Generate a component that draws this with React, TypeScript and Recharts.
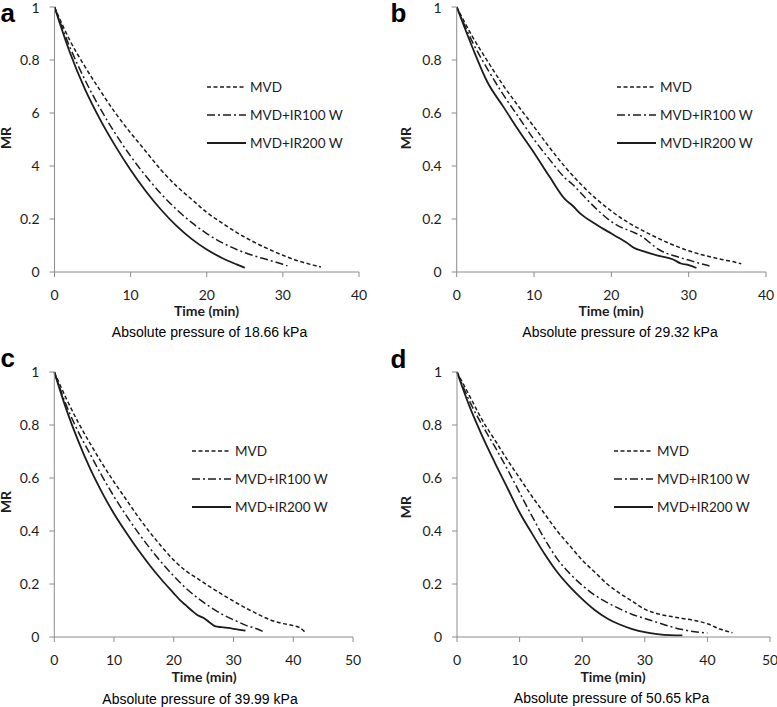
import { LineChart, Line, XAxis, YAxis, Legend } from "recharts";

// MR vs drying time (min)
const aMVD = [[0, 1], [2, 0.875], [4, 0.775], [6, 0.685], [8, 0.6], [10, 0.525], [12, 0.455], [14, 0.385], [16, 0.325], [18, 0.275], [20, 0.225], [22, 0.185], [24, 0.148], [26, 0.116], [28, 0.088], [30, 0.063], [32, 0.042], [34, 0.026], [35, 0.019]];
const aIR100 = [[0, 1], [2, 0.85], [4, 0.725], [6, 0.617], [8, 0.522], [10, 0.437], [12, 0.362], [14, 0.295], [16, 0.237], [18, 0.187], [20, 0.145], [22, 0.111], [24, 0.084], [26, 0.063], [28, 0.046], [30, 0.029], [30.6, 0.023]];
const aIR200 = [[0, 1], [2, 0.83], [4, 0.69], [6, 0.575], [8, 0.475], [10, 0.385], [12, 0.305], [14, 0.235], [16, 0.175], [18, 0.125], [20, 0.085], [22, 0.053], [24, 0.028], [25, 0.016]];

const bMVD = [[0, 1], [2, 0.89], [4, 0.795], [6, 0.705], [8, 0.625], [10, 0.548], [12, 0.47], [14, 0.397], [16, 0.333], [18, 0.277], [20, 0.23], [22, 0.19], [24, 0.157], [26, 0.128], [28, 0.102], [30, 0.08], [32, 0.063], [34, 0.049], [36, 0.037], [36.8, 0.031]];
const bIR100 = [[0, 1], [2, 0.87], [4, 0.765], [6, 0.67], [8, 0.585], [10, 0.5], [12, 0.425], [14, 0.355], [15, 0.33], [16, 0.3], [18, 0.24], [20, 0.19], [21, 0.172], [22, 0.16], [23, 0.148], [24, 0.133], [25, 0.11], [26, 0.087], [27, 0.072], [28, 0.062], [30, 0.045], [32, 0.028], [32.7, 0.023]];
const bIR200 = [[0, 1], [2, 0.85], [4, 0.715], [6, 0.625], [8, 0.535], [10, 0.45], [12, 0.36], [14, 0.275], [15, 0.25], [16, 0.22], [18, 0.18], [20, 0.145], [21, 0.128], [22, 0.11], [23, 0.09], [24, 0.08], [26, 0.062], [28, 0.047], [29, 0.032], [30, 0.026], [31, 0.015]];

const cMVD = [[0, 1], [2, 0.9], [4, 0.81], [6, 0.73], [8, 0.655], [10, 0.585], [12, 0.52], [14, 0.455], [16, 0.395], [18, 0.34], [20, 0.29], [22, 0.25], [24, 0.22], [26, 0.19], [28, 0.162], [30, 0.135], [32, 0.11], [34, 0.087], [36, 0.066], [38, 0.052], [40, 0.043], [41, 0.036], [42, 0.018]];
const cIR100 = [[0, 1], [2, 0.875], [4, 0.775], [6, 0.69], [8, 0.607], [10, 0.53], [12, 0.46], [14, 0.395], [16, 0.335], [18, 0.28], [20, 0.23], [22, 0.185], [24, 0.147], [26, 0.115], [28, 0.087], [30, 0.065], [32, 0.045], [34, 0.03], [35, 0.02]];
const cIR200 = [[0, 1], [2, 0.86], [4, 0.74], [6, 0.635], [8, 0.545], [10, 0.465], [12, 0.395], [14, 0.33], [16, 0.27], [18, 0.215], [20, 0.165], [21, 0.14], [22, 0.12], [23, 0.1], [24, 0.082], [25, 0.072], [26, 0.055], [27, 0.04], [28, 0.037], [30, 0.031], [32, 0.024]];

const dMVD = [[0, 1], [2, 0.91], [4, 0.82], [6, 0.745], [8, 0.67], [10, 0.6], [12, 0.53], [14, 0.465], [16, 0.4], [18, 0.345], [20, 0.29], [22, 0.245], [24, 0.2], [26, 0.165], [28, 0.135], [30, 0.105], [32, 0.088], [34, 0.078], [36, 0.07], [38, 0.062], [40, 0.05], [42, 0.03], [44, 0.016]];
const dIR100 = [[0, 1], [2, 0.89], [4, 0.8], [6, 0.72], [8, 0.635], [10, 0.545], [12, 0.455], [14, 0.37], [16, 0.295], [18, 0.24], [20, 0.195], [22, 0.158], [24, 0.13], [26, 0.106], [28, 0.085], [30, 0.07], [32, 0.055], [34, 0.04], [36, 0.028], [38, 0.02], [40, 0.015]];
const dIR200 = [[0, 1], [2, 0.87], [4, 0.76], [6, 0.66], [8, 0.565], [10, 0.47], [12, 0.39], [14, 0.313], [16, 0.245], [18, 0.19], [20, 0.143], [22, 0.102], [24, 0.07], [26, 0.047], [28, 0.03], [30, 0.018], [32, 0.011], [34, 0.007], [36, 0.006]];

const seriesNames = ["MVD", "MVD+IR100 W", "MVD+IR200 W"];
const yTicks = [0, 0.2, 0.4, 0.6, 0.8, 1];
const yLabelsA = ["0", "0.2", "4", "6", "0.8", "1"]; // as printed in panel a
const yLabels = ["0", "0.2", "0.4", "0.6", "0.8", "1"];
const xTicks40 = [0, 10, 20, 30, 40];
const xTicks50 = [0, 10, 20, 30, 40, 50];
const letters = ["a", "b", "c", "d"];
const captions = ["Absolute pressure of 18.66 kPa", "Absolute pressure of 29.32 kPa", "Absolute pressure of 39.99 kPa", "Absolute pressure of 50.65 kPa"];

const AXIS = "#8c8c8c";
const INK = "#1c1c1c";
const FONT = "Lato, 'Open Sans', sans-serif";
const ARIAL = "'Liberation Sans', Arial, sans-serif";
const styles = [
  { dash: "4 2.5", w: 1.5 },
  { dash: "8 3 2 3", w: 1.5 },
  { dash: undefined, w: 1.8 },
];

const toRows = (pts) => pts.map(([t, mr]) => ({ t, mr }));

const LegendBox = () => (
  <div style={{ fontFamily: FONT, fontSize: 13.5, color: INK }}>
    {seriesNames.map((name, i) => (
      <div key={name} style={{ display: "flex", alignItems: "center", height: 28 }}>
        <svg width={39} height={4} style={{ marginRight: 4 }}>
          <line x1={0} y1={2} x2={39} y2={2} stroke={INK} strokeWidth={styles[i].w} strokeDasharray={styles[i].dash} />
        </svg>
        <span>{name}</span>
      </div>
    ))}
  </div>
);

const Panel = ({ left, top, width, height, margin, yWidth, xHeight, xMax, xTicks, labels, data, legendAt }) => (
  <div style={{ position: "absolute", left, top }}>
    <LineChart width={width} height={height} margin={margin}>
      <XAxis
        dataKey="t"
        type="number"
        domain={[0, xMax]}
        ticks={xTicks}
        height={xHeight}
        stroke={AXIS}
        tickSize={5}
        tickMargin={13}
        tick={{ fontSize: 14, fill: INK, fontFamily: FONT }}
      />
      <YAxis
        type="number"
        domain={[0, 1]}
        ticks={yTicks}
        width={yWidth}
        stroke={AXIS}
        tickSize={5}
        tickMargin={10}
        tickFormatter={(v) => labels[yTicks.indexOf(v)]}
        tick={{ fontSize: 14, fill: INK, fontFamily: FONT }}
      />
      <Legend
        layout="vertical"
        align="center"
        verticalAlign="middle"
        content={() => <LegendBox />}
        wrapperStyle={{ left: legendAt[0], top: legendAt[1], width: 150 }}
      />
      {data.map((pts, i) => (
        <Line
          key={seriesNames[i]}
          name={seriesNames[i]}
          data={toRows(pts)}
          dataKey="mr"
          type="monotone"
          stroke={INK}
          strokeWidth={styles[i].w}
          strokeDasharray={styles[i].dash}
          dot={false}
          activeDot={false}
          isAnimationActive={false}
        />
      ))}
    </LineChart>
  </div>
);

// text positions for letter, MR title, Time title and caption of each panel
const textPos = [
  { letter: [0.5, 22], mr: [5.5, 138], time: [206.5, 316], cap: [209.5, 337] },
  { letter: [390.5, 22], mr: [405, 138], time: [611, 316], cap: [620, 337] },
  { letter: [0.5, 367], mr: [5.5, 502], time: [204, 682], cap: [200, 704] },
  { letter: [390.5, 368], mr: [405, 507], time: [613, 682], cap: [611.5, 703] },
];

export default function App() {
  return (
    <div style={{ position: "absolute", left: 0, top: 0, width: 777, height: 707, background: "#fff", overflow: "hidden" }}>
      <Panel left={0} top={0} width={385} height={350} margin={{ top: 7, right: 26, left: 0, bottom: 0 }} yWidth={54.5} xHeight={78}
        xMax={40} xTicks={xTicks40} labels={yLabelsA} data={[aMVD, aIR100, aIR200]} legendAt={[207, 73]} />
      <Panel left={390} top={0} width={387} height={350} margin={{ top: 7, right: 11, left: 0, bottom: 0 }} yWidth={66.7} xHeight={78}
        xMax={40} xTicks={xTicks40} labels={yLabels} data={[bMVD, bIR100, bIR200]} legendAt={[227, 73]} />
      <Panel left={0} top={350} width={385} height={357} margin={{ top: 22, right: 32, left: 0, bottom: 0 }} yWidth={54.3} xHeight={70}
        xMax={50} xTicks={xTicks50} labels={yLabels} data={[cMVD, cIR100, cIR200]} legendAt={[192, 87]} />
      <Panel left={390} top={350} width={387} height={357} margin={{ top: 22, right: 7, left: 0, bottom: 0 }} yWidth={67} xHeight={70}
        xMax={50} xTicks={xTicks50} labels={yLabels} data={[dMVD, dIR100, dIR200]} legendAt={[224, 87]} />
      <svg width={777} height={707} style={{ position: "absolute", left: 0, top: 0, pointerEvents: "none", zIndex: 5 }}>
        {textPos.map((p, i) => (
          <g key={letters[i]}>
            <text x={p.letter[0]} y={p.letter[1]} fontSize={26} fontWeight={700} fontFamily={ARIAL} fill="#000">{letters[i]}</text>
            <text x={p.mr[0]} y={p.mr[1]} transform={`rotate(-90 ${p.mr[0]} ${p.mr[1]})`} textAnchor="middle" dominantBaseline="central"
              fontSize={14} fontWeight={700} fontFamily={FONT} fill={INK}>MR</text>
            <text x={p.time[0]} y={p.time[1]} textAnchor="middle" fontSize={14} fontWeight={700} fontFamily={FONT} fill={INK}>Time (min)</text>
            <text x={p.cap[0]} y={p.cap[1]} textAnchor="middle" fontSize={14} fontFamily={ARIAL} fill="#000">{captions[i]}</text>
          </g>
        ))}
      </svg>
    </div>
  );
}
